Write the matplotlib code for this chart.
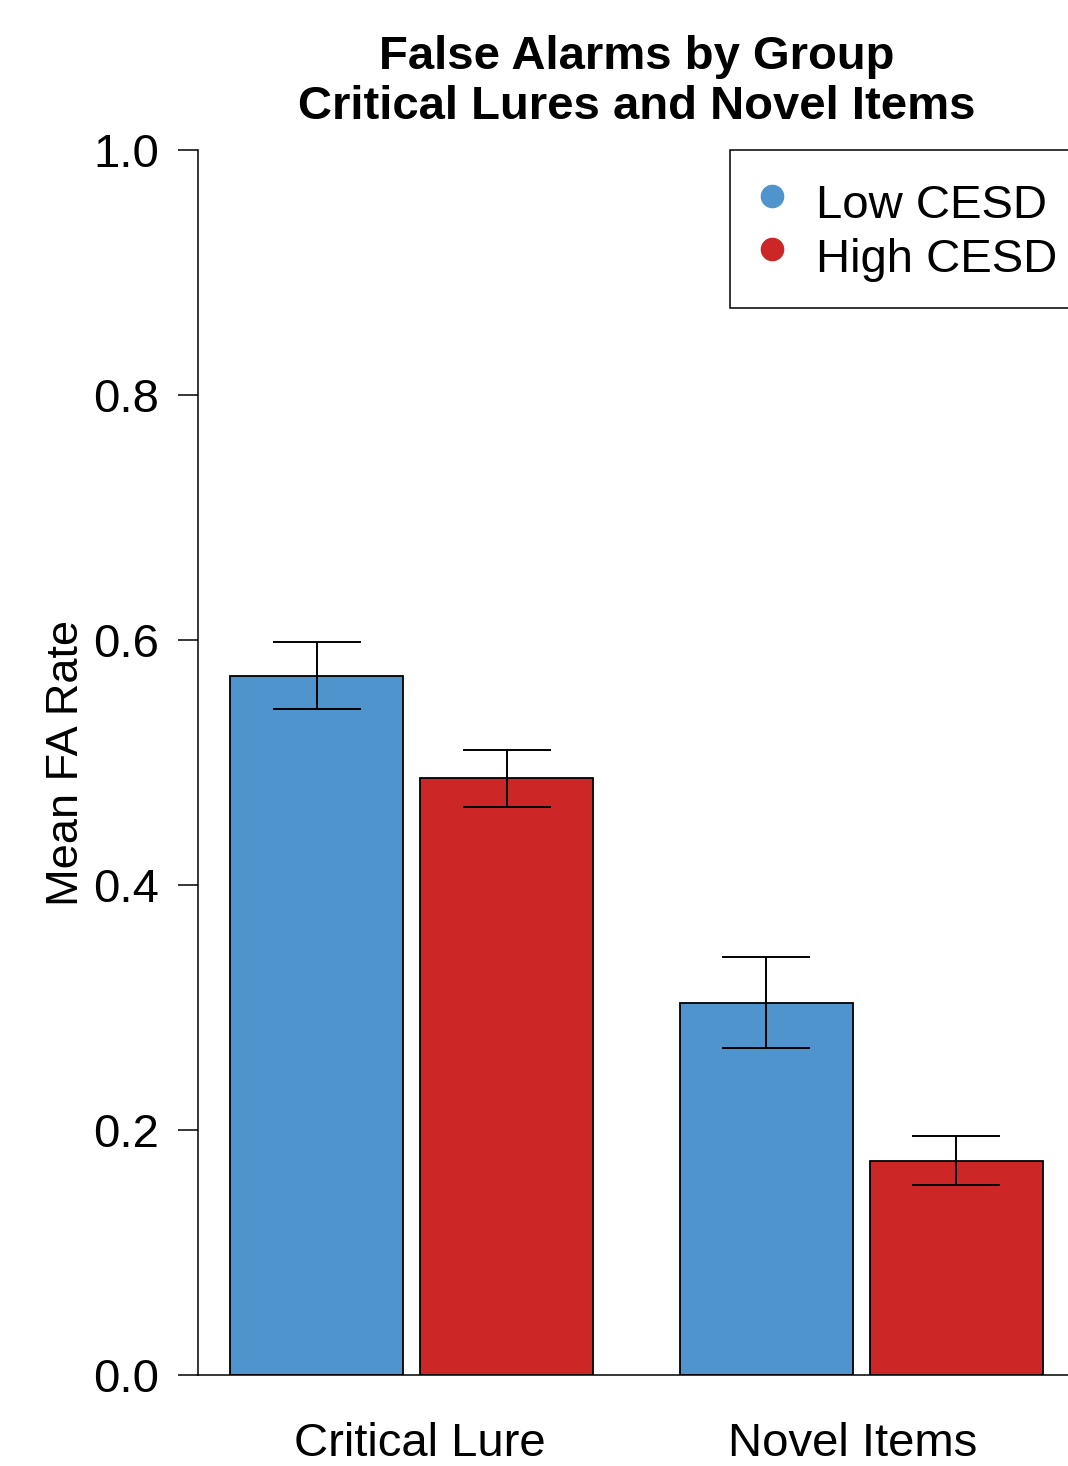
import matplotlib
matplotlib.use('Agg')
import matplotlib.pyplot as plt
from matplotlib.lines import Line2D

# dati
categories = ['Critical Lure', 'Novel Items']
groups = ['Low CESD', 'High CESD']
low_mean = [0.571, 0.304]
low_err = [0.027, 0.037]
high_mean = [0.487, 0.175]
high_err = [0.023, 0.020]
y_ticks = [0.0, 0.2, 0.4, 0.6, 0.8, 1.0]
y_ticklabels = ['0.0', '0.2', '0.4', '0.6', '0.8', '1.0']

col_low = '#4F94CD'
col_high = '#CD2626'

plt.rcParams['font.family'] = ['Liberation Sans', 'DejaVu Sans']
fs = 34

# posizioni stile barplot di R (width=1, space=c(0.1, 0.5))
bar_w = 1.0
left0 = 0.5
step = 2 * bar_w + 0.1 + 0.5
low_x = [left0 + g * step + bar_w / 2 for g in range(len(categories))]
high_x = [x + bar_w + 0.1 for x in low_x]
label_x = [1.6, 4.1]

fig = plt.figure(figsize=(10.68, 14.66), dpi=100)
ax = fig.add_axes([197.5 / 1068, 91 / 1466, 878 / 1068, 1225 / 1466])

ax.bar(low_x, low_mean, width=bar_w, color=col_low, edgecolor='black', linewidth=1.3, zorder=2)
ax.bar(high_x, high_mean, width=bar_w, color=col_high, edgecolor='black', linewidth=1.3, zorder=2)
ax.errorbar(low_x, low_mean, yerr=low_err, fmt='none', ecolor='black', elinewidth=1.4,
            capsize=31.7, capthick=1.4, zorder=3)
ax.errorbar(high_x, high_mean, yerr=high_err, fmt='none', ecolor='black', elinewidth=1.4,
            capsize=31.7, capthick=1.4, zorder=3)

ax.set_xlim(0.312, 5.388)
ax.set_ylim(0, 1)
ax.set_yticks(y_ticks)
ax.set_yticklabels(y_ticklabels, fontsize=fs)
ax.tick_params(axis='y', length=14.4, width=1.1, pad=13)
ax.set_xticks(label_x)
ax.set_xticklabels(categories, fontsize=fs)
ax.tick_params(axis='x', length=0, pad=34)

for s in ['top', 'right']:
    ax.spines[s].set_visible(False)
ax.spines['left'].set_linewidth(1.1)
ax.spines['bottom'].set_linewidth(1.1)

ax.set_ylabel('Mean FA Rate', fontsize=32.5)
ax.yaxis.set_label_coords(-0.1255, 0.5)

ax.set_title('False Alarms by Group\nCritical Lures and Novel Items', fontsize=fs,
             fontweight='bold', linespacing=1.2, pad=22)

handles = [Line2D([], [], marker='o', linestyle='none', markersize=16, color=c)
           for c in [col_low, col_high]]
leg = ax.legend(handles, groups, loc='upper right', bbox_to_anchor=(1 + 5 / 878, 1),
                borderaxespad=0, fontsize=fs, frameon=True, fancybox=False, framealpha=1,
                borderpad=0.5, labelspacing=-0.085, handlelength=0.8, handletextpad=0.52,
                handleheight=1.5)
leg.get_frame().set_edgecolor('black')
leg.get_frame().set_linewidth(1.1)

fig.savefig('out.png', dpi=100)
